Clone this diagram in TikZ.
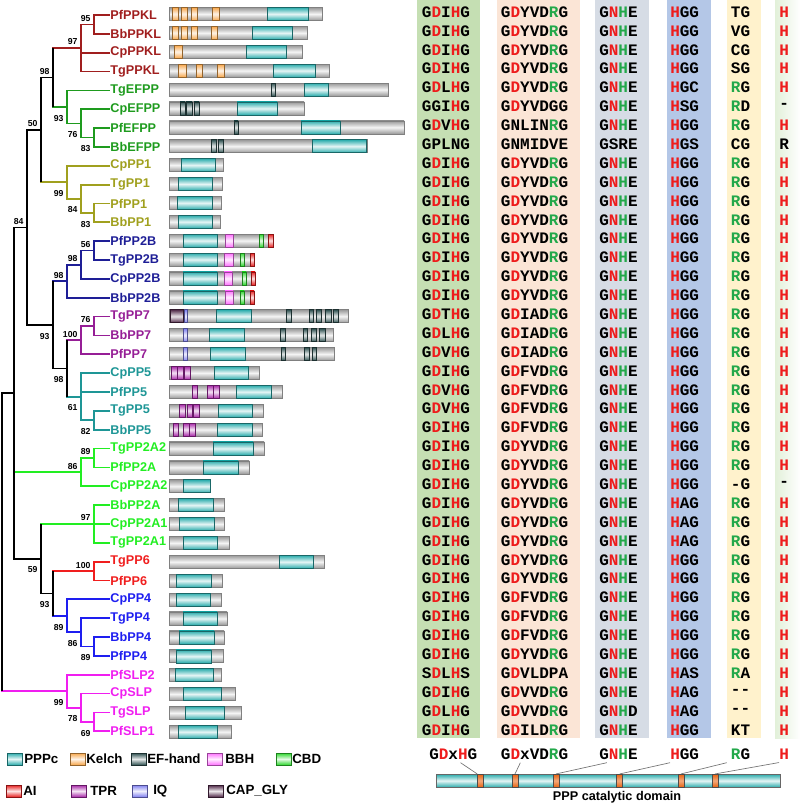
\documentclass[tikz,border=0pt]{standalone}
\usepackage{fontspec}
\setmainfont{Liberation Sans}
\newfontfamily\seqfont{Liberation Mono}
\usetikzlibrary{positioning,calc}
% clade colours
\definecolor{cPPKL}{HTML}{A01E1E}
\definecolor{cEFPP}{HTML}{1E9B1E}
\definecolor{cPP1}{HTML}{A0A01E}
\definecolor{cPP2B}{HTML}{1E1E96}
\definecolor{cPP7}{HTML}{961E96}
\definecolor{cPP5}{HTML}{1E9696}
\definecolor{cPP2A}{HTML}{22EE22}
\definecolor{cPP6}{HTML}{F01E1E}
\definecolor{cPP4}{HTML}{1E1EF0}
\definecolor{cSLP}{HTML}{F01EF0}
% residues and columns
\definecolor{cRes}{HTML}{EE1C1C}
\definecolor{cCon}{HTML}{22A84A}
\definecolor{cBandA}{HTML}{C5DFB3}
\definecolor{cBandB}{HTML}{FBE5D6}
\definecolor{cBandC}{HTML}{D6DCE5}
\definecolor{cBandD}{HTML}{B4C7E7}
\definecolor{cBandE}{HTML}{FFF2CC}
\definecolor{cBandF}{HTML}{E2F0D9}
% domains
\definecolor{dPPPc}{HTML}{2AACAC}
\definecolor{dKelch}{HTML}{F7A64A}
\definecolor{dEF}{HTML}{2E5050}
\definecolor{dBBH}{HTML}{FF70FF}
\definecolor{dCBD}{HTML}{2ED82E}
\definecolor{dAI}{HTML}{E82020}
\definecolor{dTPR}{HTML}{A828A8}
\definecolor{dIQ}{HTML}{8080F0}
\definecolor{dCAP}{HTML}{502848}
\definecolor{dNotch}{HTML}{E8620F}
\newcommand\rd[1]{\textcolor{cRes}{#1}}
\newcommand\gr[1]{\textcolor{cCon}{#1}}
\newcommand\mota[1]{G\rd{D}#1\rd{H}G}
\newcommand\motb[2]{G\rd{D}#1#2D\gr{R}G}
\newcommand\cNHE{G\rd{N}\gr{H}E}
\newcommand\cHGG{\rd{H}GG}
\newcommand\cRG{\gr{R}G}
\newcommand\cH{\rd{H}}
\tikzset{
  branch/.style ={line width=1.3pt},
  leaf/.style   ={anchor=west, inner sep=0.5pt, font=\bfseries\fontsize{9.5}{10}\selectfont},
  bs/.style     ={inner sep=0pt, font=\bfseries\fontsize{6.5}{7}\selectfont},
  bsu/.style    ={bs, above left=2pt and 2.5pt of #1},
  bsd/.style    ={bs, below left=5.9pt and 2.5pt of #1},
  seq/.style    ={anchor=west, inner sep=0pt, font=\seqfont\bfseries\fontsize{12}{12}\selectfont},
  prot/.style   ={draw=black!50, line width=0.5pt, top color=black!40, bottom color=black!40, middle color=black!4},
  dom/.style    ={draw=#1!60!black, line width=0.4pt, top color=#1, bottom color=#1, middle color=#1!12!white},
  swatch/.style ={dom=#1, minimum width=11.25pt, minimum height=9pt, inner sep=0pt},
  lgd/.style    ={anchor=west, inner sep=0pt, font=\bfseries\fontsize{10}{11}\selectfont},
  notch/.style  ={draw=black!70, line width=0.4pt, top color=dNotch, bottom color=dNotch, middle color=dNotch!55!white,
                  minimum width=4.5pt, minimum height=9.75pt, inner sep=0pt},
  catbar/.style ={draw=black!60, line width=0.5pt, top color=dPPPc, bottom color=dPPPc, middle color=dPPPc!12!white,
                  minimum width=258pt, minimum height=9.75pt, inner sep=0pt},
  lead/.style   ={draw=black!55, line width=0.5pt},
}

\begin{document}
\begin{tikzpicture}[x=0.75pt, y=-0.75pt]
\useasboundingbox (0,0) rectangle (800,805);

% motif columns
\fill[cBandA] (417,0) rectangle (480,738);
\fill[cBandB] (497,0) rectangle (580,738);
\fill[cBandC] (595,0) rectangle (649,738);
\fill[cBandD] (667,0) rectangle (711,738);
\fill[cBandE] (727,0) rectangle (761,738);
\shade[left color=cBandF, right color=white] (775,0) rectangle (800,738);

% leaves
\foreach \nm/\col [count=\i from 0] in {PfPPKL/cPPKL, BbPPKL/cPPKL, CpPPKL/cPPKL, TgPPKL/cPPKL,
    TgEFPP/cEFPP, CpEFPP/cEFPP, PfEFPP/cEFPP, BbEFPP/cEFPP, CpPP1/cPP1, TgPP1/cPP1, PfPP1/cPP1, BbPP1/cPP1,
    PfPP2B/cPP2B, TgPP2B/cPP2B, CpPP2B/cPP2B, BbPP2B/cPP2B, TgPP7/cPP7, BbPP7/cPP7, PfPP7/cPP7,
    CpPP5/cPP5, PfPP5/cPP5, TgPP5/cPP5, BbPP5/cPP5, TgPP2A2/cPP2A, PfPP2A/cPP2A, CpPP2A2/cPP2A,
    BbPP2A/cPP2A, CpPP2A1/cPP2A, TgPP2A1/cPP2A, TgPP6/cPP6, PfPP6/cPP6, CpPP4/cPP4, TgPP4/cPP4,
    BbPP4/cPP4, PfPP4/cPP4, PfSLP2/cSLP, CpSLP/cSLP, TgSLP/cSLP, PfSLP1/cSLP}
  \node[leaf, text=\col] (\nm) at (109.5,{15+18.85*\i}) {\nm};

% internal nodes
\coordinate (k95) at (94,24.4);   \coordinate (k97) at (81,48);
\coordinate (e83) at (94,137.5);  \coordinate (e76) at (81,123.4);  \coordinate (e93) at (67,106.9);
\coordinate (b98) at (53,77.4);
\coordinate (a83) at (94,212.9);  \coordinate (a84) at (81,198.8);  \coordinate (a99) at (67,182.3);
\coordinate (b50) at (41,129.9);
\coordinate (c56) at (94,250.6);  \coordinate (c98) at (81,264.8);  \coordinate (c98b) at (67,281.3);
\coordinate (d76) at (94,326);    \coordinate (d100) at (81,340.2);
\coordinate (f82) at (94,420.3);  \coordinate (f61) at (81,396.7);
\coordinate (b98c) at (67,368.4); \coordinate (b93) at (53,324.9);  \coordinate (b84) at (27,227.4);
\coordinate (g89) at (94,458);    \coordinate (g86) at (81,472.1);  \coordinate (h97) at (94,524);
\coordinate (r100) at (94,571.1);
\coordinate (p89b) at (94,646.5); \coordinate (p86) at (81,632.3);  \coordinate (p89) at (67,615.9);
\coordinate (b93d) at (53,593.5); \coordinate (b59) at (41,558.7);  \coordinate (bN) at (14,393);
\coordinate (s69) at (94,721.9);  \coordinate (s78) at (81,707.7);  \coordinate (s99) at (67,691.3);
\coordinate (root) at (2,542.1);

% branches
\foreach \p/\c/\col in {
    k95/PfPPKL.west/cPPKL, k95/BbPPKL.west/cPPKL, k97/k95/cPPKL, k97/CpPPKL.west/cPPKL, k97/TgPPKL.west/cPPKL,
    e83/PfEFPP.west/cEFPP, e83/BbEFPP.west/cEFPP, e76/CpEFPP.west/cEFPP, e76/e83/cEFPP,
    e93/TgEFPP.west/cEFPP, e93/e76/cEFPP, b98/k97/cPPKL, b98/e93/cEFPP,
    a83/PfPP1.west/cPP1, a83/BbPP1.west/cPP1, a84/TgPP1.west/cPP1, a84/a83/cPP1,
    a99/CpPP1.west/cPP1, a99/a84/cPP1, b50/b98/black, b50/a99/cPP1,
    c56/PfPP2B.west/cPP2B, c56/TgPP2B.west/cPP2B, c98/c56/cPP2B, c98/CpPP2B.west/cPP2B,
    c98b/c98/cPP2B, c98b/BbPP2B.west/cPP2B,
    d76/TgPP7.west/cPP7, d76/BbPP7.west/cPP7, d100/d76/cPP7, d100/PfPP7.west/cPP7,
    f82/TgPP5.west/cPP5, f82/BbPP5.west/cPP5, f61/CpPP5.west/cPP5, f61/PfPP5.west/cPP5, f61/f82/cPP5,
    b98c/d100/cPP7, b98c/f61/cPP5, b93/c98b/cPP2B, b93/b98c/black, b84/b50/black, b84/b93/black,
    g89/TgPP2A2.west/cPP2A, g89/PfPP2A.west/cPP2A, g86/g89/cPP2A, g86/CpPP2A2.west/cPP2A,
    h97/BbPP2A.west/cPP2A, h97/CpPP2A1.west/cPP2A, h97/TgPP2A1.west/cPP2A,
    r100/TgPP6.west/cPP6, r100/PfPP6.west/cPP6,
    p89b/BbPP4.west/cPP4, p89b/PfPP4.west/cPP4, p86/TgPP4.west/cPP4, p86/p89b/cPP4,
    p89/CpPP4.west/cPP4, p89/p86/cPP4, b93d/r100/cPP6, b93d/p89/cPP4,
    b59/h97/cPP2A, b59/b93d/black, bN/b84/black, bN/g86/cPP2A, bN/b59/black,
    s69/TgSLP.west/cSLP, s69/PfSLP1.west/cSLP, s78/CpSLP.west/cSLP, s78/s69/cSLP,
    s99/PfSLP2.west/cSLP, s99/s78/cSLP, root/bN/black, root/s99/cSLP}
  \draw[branch, \col] (\p) |- (\c);
% black stems over the coloured ones
\foreach \p/\t/\b in {b98/k97/e93, b50/b98/a99, b98c/d100/f61, b93/c98b/b98c, b84/b50/b93,
    b93d/r100/p89, b59/h97/b93d, bN/b84/b59, root/bN/s99}
  \draw[branch] (\p |- \t) -- (\p |- \b);

% bootstrap values
\foreach \n/\v in {k95/95, k97/97, b98/98, b50/50, b84/84, c56/56, c98/98, c98b/98,
    d76/76, d100/100, g89/89, g86/86, h97/97, r100/100}
  \node[bsu=\n] (bs\n) {\v};
\foreach \n/\v in {e93/93, e76/76, e83/83, a99/99, a84/84, a83/83, b93/93, b98c/98, f61/61, f82/82,
    b59/59, b93d/93, p89/89, p86/86, p89b/89, s99/99, s78/78, s69/69}
  \node[bsd=\n] (bs\n) {\v};

% domain architectures
\foreach \r/\e/\ps/\pe in {0/322/267/308, 1/307/252/292, 2/302/246/286, 3/329/273/315, 4/388/304/328,
    5/304/237/277, 6/404/301/340, 7/367/312/366, 8/223/181/215, 9/222/178/212, 10/221/177/212,
    11/220/178/212, 12/273/183/217, 13/254/183/217, 14/255/183/217, 15/254/183/217, 16/348/216/251,
    17/333/209/244, 18/334/210/245, 19/259/214/248, 20/282/236/271, 21/263/218/252, 22/262/217/252,
    23/264/213/253, 24/249/203/238, 25/210/183/210, 26/224/178/213, 27/224/179/214, 28/229/183/217,
    29/324/279/313, 30/222/176/211, 31/221/176/210, 32/227/183/217, 33/224/179/214, 34/223/176/211,
    35/221/175/213, 36/235/183/221, 37/241/185/224, 38/231/178/217}{
  \pgfmathsetmacro\yy{14+18.89*\r}
  \draw[prot] (169,\yy-6.5) rectangle (\e,\yy+6.5);
  \draw[dom=dPPPc] (\ps,\yy-6.5) rectangle (\pe,\yy+6.5);
}
\foreach \d/\r/\ps/\pe in {dKelch/0/172/178, dKelch/0/181/187, dKelch/0/191/197, dKelch/0/212/219,
    dKelch/1/172/178, dKelch/1/181/187, dKelch/1/191/197, dKelch/1/211/217, dKelch/2/174/182,
    dKelch/3/178/186, dKelch/3/196/202, dKelch/3/217/224,
    dEF/4/271/275, dEF/5/180/185, dEF/5/186/192, dEF/5/194/199, dEF/6/234/238, dEF/7/211/216, dEF/7/218/223,
    dEF/16/286/291, dEF/16/309/313, dEF/16/316/321, dEF/16/325/331, dEF/16/333/338,
    dEF/17/280/285, dEF/17/303/307, dEF/17/311/316, dEF/17/319/325,
    dEF/18/281/285, dEF/18/304/309, dEF/18/312/316,
    dBBH/12/225/233, dBBH/13/224/233, dBBH/14/224/232, dBBH/15/225/233,
    dCBD/12/259/263, dCBD/13/240/244, dCBD/14/242/246, dCBD/15/240/244,
    dAI/12/268/273, dAI/13/250/254, dAI/14/251/255, dAI/15/250/254,
    dTPR/19/171/177, dTPR/19/177/183, dTPR/19/184/190, dTPR/20/192/197, dTPR/20/207/213, dTPR/20/213/219,
    dTPR/21/179/185, dTPR/21/187/192, dTPR/21/193/199, dTPR/22/173/178, dTPR/22/183/189, dTPR/22/189/195,
    dIQ/16/184/187, dIQ/17/183/187, dIQ/18/183/187, dCAP/16/170/183}{
  \pgfmathsetmacro\yy{14+18.89*\r}
  \draw[dom=\d] (\ps,\yy-6.5) rectangle (\pe,\yy+6.5);
}

% conserved motifs
\foreach \sa/\sb/\sc/\sd/\se/\sf [count=\i from 0] in {
    \mota{I}/\motb{Y}{V}/\cNHE/\cHGG/TG/\cH,
    \mota{I}/\motb{Y}{V}/\cNHE/\cHGG/VG/\cH,
    \mota{I}/\motb{Y}{V}/\cNHE/\cHGG/CG/\cH,
    \mota{I}/\motb{Y}{V}/\cNHE/\cHGG/SG/\cH,
    \mota{L}/\motb{Y}{V}/\cNHE/\rd{H}GC/\cRG/\cH,
    GGI\rd{H}G/G\rd{D}YVDGG/\cNHE/\rd{H}SG/\gr{R}D/-,
    \mota{V}/GNLIN\gr{R}G/\cNHE/\cHGG/\cRG/\cH,
    GPLNG/GNMIDVE/GSRE/\rd{H}GS/CG/R,
    \mota{I}/\motb{Y}{V}/\cNHE/\cHGG/\cRG/\cH,
    \mota{I}/\motb{Y}{V}/\cNHE/\cHGG/\cRG/\cH,
    \mota{I}/\motb{Y}{V}/\cNHE/\cHGG/\cRG/\cH,
    \mota{I}/\motb{Y}{V}/\cNHE/\cHGG/\cRG/\cH,
    \mota{I}/\motb{Y}{V}/\cNHE/\cHGG/\cRG/\cH,
    \mota{I}/\motb{Y}{V}/\cNHE/\cHGG/\cRG/\cH,
    \mota{I}/\motb{Y}{V}/\cNHE/\cHGG/\cRG/\cH,
    \mota{I}/\motb{Y}{V}/\cNHE/\cHGG/\cRG/\cH,
    \mota{T}/\motb{I}{A}/\cNHE/\cHGG/\cRG/\cH,
    \mota{L}/\motb{I}{A}/\cNHE/\cHGG/\cRG/\cH,
    \mota{V}/\motb{I}{A}/\cNHE/\cHGG/\cRG/\cH,
    \mota{I}/\motb{F}{V}/\cNHE/\cHGG/\cRG/\cH,
    \mota{V}/\motb{F}{V}/\cNHE/\cHGG/\cRG/\cH,
    \mota{V}/\motb{F}{V}/\cNHE/\cHGG/\cRG/\cH,
    \mota{I}/\motb{F}{V}/\cNHE/\cHGG/\cRG/\cH,
    \mota{I}/\motb{Y}{V}/\cNHE/\cHGG/\cRG/\cH,
    \mota{I}/\motb{Y}{V}/\cNHE/\cHGG/\cRG/\cH,
    \mota{I}/\motb{Y}{V}/\cNHE/\cHGG/-G/-,
    \mota{I}/\motb{Y}{V}/\cNHE/\rd{H}AG/\cRG/\cH,
    \mota{I}/\motb{Y}{V}/\cNHE/\rd{H}AG/\cRG/\cH,
    \mota{I}/\motb{Y}{V}/\cNHE/\rd{H}AG/\cRG/\cH,
    \mota{I}/\motb{Y}{V}/\cNHE/\cHGG/\cRG/\cH,
    \mota{I}/\motb{Y}{V}/\cNHE/\cHGG/\cRG/\cH,
    \mota{I}/\motb{F}{V}/\cNHE/\cHGG/\cRG/\cH,
    \mota{I}/\motb{F}{V}/\cNHE/\cHGG/\cRG/\cH,
    \mota{I}/\motb{F}{V}/\cNHE/\cHGG/\cRG/\cH,
    \mota{I}/\motb{Y}{V}/\cNHE/\cHGG/\cRG/\cH,
    S\rd{D}L\rd{H}S/G\rd{D}VLDPA/\cNHE/\rd{H}AS/\gr{R}A/\cH,
    \mota{I}/\motb{V}{V}/\cNHE/\rd{H}AG/-{}-/\cH,
    \mota{L}/\motb{V}{V}/G\rd{N}\gr{H}D/\rd{H}AG/-{}-/\cH,
    \mota{I}/\motb{I}{L}/\cNHE/\cHGG/KT/\cH}{
  \pgfmathsetmacro\yy{12+18.89*\i}
  \node[seq] (sqa\i) at (421.7,\yy) {\sa};
  \node[seq] (sqb\i) at (500.7,\yy) {\sb};
  \node[seq] (sqc\i) at (599,\yy) {\sc};
  \node[seq] (sqd\i) at (670,\yy) {\sd};
  \node[seq] (sqe\i) at (730.7,\yy) {\se};
  \node[seq] (sqf\i) at (779,\yy) {\sf};
}

% legend
\foreach \k/\lab/\d/\sx/\lx/\ly in {PPPc/PPPc/dPPPc/14.5/24/759, Kelch/Kelch/dKelch/77.5/86/759,
    EF/EF-hand/dEF/139/147/759, BBH/BBH/dBBH/214.5/225/759, CBD/CBD/dCBD/283.5/292/759,
    AI/AI/dAI/14/23/791, TPR/TPR/dTPR/78.5/90/791, IQ/IQ/dIQ/139.5/153/791, CAP/CAP\_GLY/dCAP/215.5/226/791}{
  \node[swatch=\d] (sw\k) at (\sx,\ly) {};
  \node[lgd] (lg\k) at (\lx,\ly) {\lab};
}

% PPP catalytic domain
\node[catbar] (cat) at (608,780.7) {};
\foreach \nm/\xx in {nt1/480.5, nt2/515, nt3/556, nt4/619.7, nt5/681, nt6/715}
  \node[notch] (\nm) at (\xx,780.7) {};
\node[seq] (m1) at (429,754) {G\rd{D}x\rd{H}G};
\node[seq] (m2) at (500.7,754) {G\rd{D}xVD\gr{R}G};
\node[seq] (m3) at (599,754) {\cNHE};
\node[seq] (m4) at (670,754) {\cHGG};
\node[seq] (m5) at (730.7,754) {\cRG};
\node[seq] (m6) at (779,754) {\cH};
\draw[lead] ($(m1.south west)!0.65!(m1.south east)+(0,3)$) -- (nt1.north west);
\draw[lead] ($(m2.south west)!0.29!(m2.south east)+(0,3)$) -- (nt2.north);
\draw[lead] ($(m3.south west)!0.2!(m3.south east)+(0,3)$) -- (nt3.north);
\draw[lead] ($(m4.south west)+(0,3)$) -- (nt4.north);
\draw[lead] ($(m5.south west)+(-4,3)$) -- (nt5.north);
\draw[lead] ($(m6.south west)+(0,3)$) -- (nt6.north);
\node[font=\bfseries\fontsize{9.5}{10}\selectfont, inner sep=0pt] (catlbl) at (617,797) {PPP catalytic domain};
\end{tikzpicture}
\end{document}
